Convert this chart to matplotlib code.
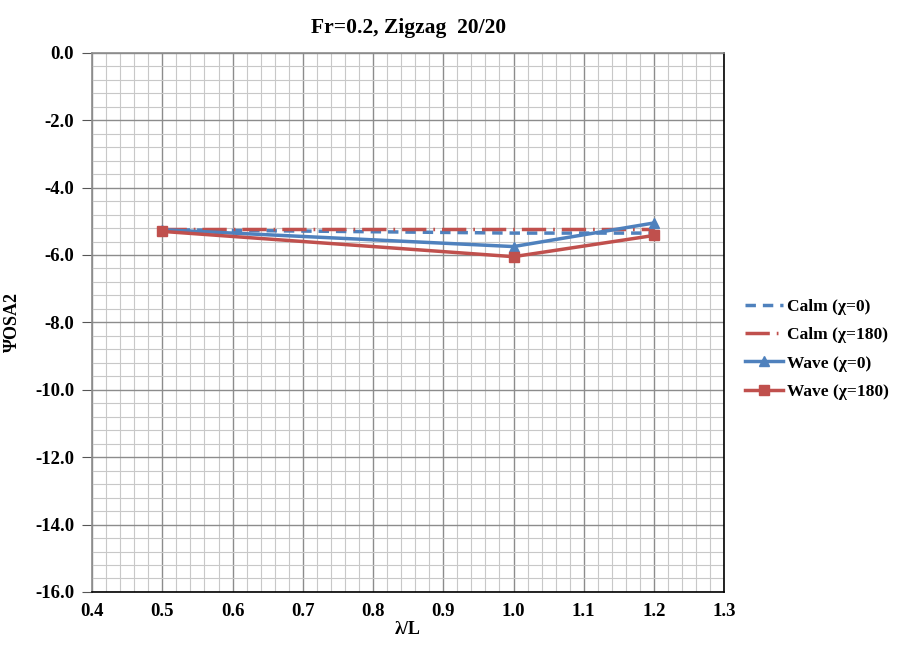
import numpy as np
import matplotlib.pyplot as plt
from matplotlib.ticker import MultipleLocator

plt.rcParams['font.family'] = ['Liberation Serif', 'DejaVu Serif']
plt.rcParams['font.weight'] = 'bold'

# wave length / ship length
lam = [0.5, 1.0, 1.2]

calm_0 = [-5.25, -5.35, -5.35]
calm_180 = [-5.22, -5.22, -5.22]
wave_0 = [-5.25, -5.75, -5.05]
wave_180 = [-5.30, -6.05, -5.42]

blue = '#4F81BD'
red = '#C0504D'

fig = plt.figure(figsize=(9.03, 6.48), dpi=100)
ax = fig.add_axes([0.102, 0.0865, 0.700, 0.832])

ax.plot(lam, calm_0, color=blue, lw=2.5, dashes=(3, 2), label='Calm (χ=0)')
ax.plot(lam, calm_180, color=red, lw=2.5, dashes=(7, 2, 0.5, 2), label='Calm (χ=180)')
ax.plot(lam, wave_0, color=blue, lw=2.5, marker='^', ms=7, label='Wave (χ=0)')
ax.plot(lam, wave_180, color=red, lw=2.5, marker='s', ms=7, label='Wave (χ=180)')

ax.set_xlim(0.4, 1.3)
ax.set_ylim(-16.0, 0.0)
ax.xaxis.set_major_locator(MultipleLocator(0.1))
ax.xaxis.set_minor_locator(MultipleLocator(0.02))
ax.yaxis.set_major_locator(MultipleLocator(2.0))
ax.yaxis.set_minor_locator(MultipleLocator(0.4))
ax.xaxis.set_major_formatter(plt.FuncFormatter(lambda v, p: f'{v:.1f}'))
ax.yaxis.set_major_formatter(plt.FuncFormatter(lambda v, p: f'{v:.1f}'))

ax.grid(which='major', color='#8c8c8c', lw=1.0)
ax.grid(which='minor', color='#c8c8c8', lw=0.8)
ax.set_axisbelow(True)

ax.tick_params(axis='x', which='both', length=0, pad=8, labelsize=13.5)
ax.tick_params(axis='y', which='major', length=7, color='#555555', pad=6, labelsize=13.5)
ax.tick_params(axis='y', which='minor', length=0)

ax.spines['left'].set_color('#8c8c8c')
ax.spines['top'].set_color('#8c8c8c')
ax.spines['right'].set_color('black')
ax.spines['bottom'].set_color('black')
for s in ax.spines.values():
    s.set_linewidth(1.2)

ax.set_title('Fr=0.2, Zigzag  20/20', fontsize=15.5, fontweight='bold', pad=14)
ax.set_xlabel('λ/L', fontsize=13, fontweight='bold', labelpad=1)
ax.set_ylabel('ΨOSA2', fontsize=13, fontweight='bold', labelpad=10)

ax.legend(loc='center left', bbox_to_anchor=(1.0, 0.45), frameon=False,
          fontsize=12.5, handlelength=2.2, handletextpad=0.2, labelspacing=0.7,
          borderaxespad=0.8)

fig.savefig('out.png', dpi=100)
